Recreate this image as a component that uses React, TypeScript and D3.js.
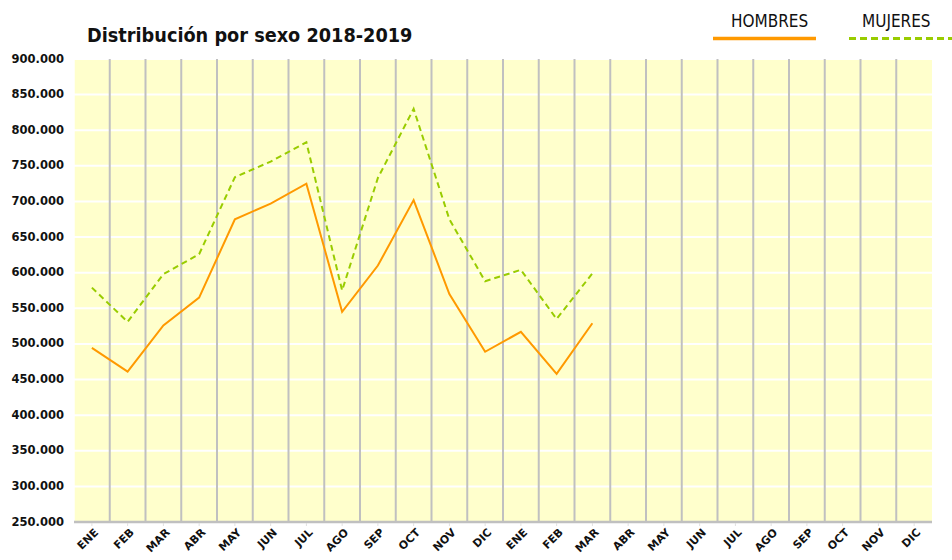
import * as d3 from "d3";

// months of the x axis (two years, 2018-2019 school/calendar)
const months = [
  "ENE", "FEB", "MAR", "ABR", "MAY", "JUN", "JUL", "AGO", "SEP", "OCT", "NOV", "DIC",
  "ENE", "FEB", "MAR", "ABR", "MAY", "JUN", "JUL", "AGO", "SEP", "OCT", "NOV", "DIC",
];

// values (only the first 15 months have data)
const hombres = [
  494500, 461000, 526000, 565000, 675000, 697000, 725000, 545000,
  610000, 702000, 570000, 489000, 517000, 458000, 529000,
];
const mujeres = [
  579000, 531000, 598000, 626000, 734000, 756000, 783000, 575000,
  733000, 830000, 675000, 588000, 604000, 535000, 599000,
];

const yTicks = d3.range(250000, 900001, 50000);

const W = 952;
const H = 560;
const margin = { top: 59, right: 20, bottom: 38, left: 74 };

const fmt = (v: number) => d3.format(",")(v).replace(/,/g, ".");

export default function App() {
  const idx = months.map((_, i) => i);
  const x = d3
    .scaleBand<number>()
    .domain(idx)
    .range([margin.left, W - margin.right])
    .padding(0);
  const y = d3
    .scaleLinear()
    .domain([250000, 900000])
    .range([H - margin.bottom, margin.top]);

  const cx = (i: number) => (x(i) as number) + x.bandwidth() / 2;

  const line = d3
    .line<number>()
    .x((_, i) => cx(i))
    .y((d) => y(d));

  const plotBottom = H - margin.bottom;
  const plotRight = W - margin.right;

  return (
    <div style={{ position: "absolute", left: 0, top: 0 }}>
      <svg width={W} height={H} viewBox={`0 0 ${W} ${H}`} style={{ display: "block" }}>
        <rect width={W} height={H} fill="white" />

        {/* plot background */}
        <rect
          x={margin.left}
          y={margin.top}
          width={plotRight - margin.left}
          height={plotBottom - margin.top}
          fill="#ffffcc"
        />

        {/* horizontal white grid */}
        {yTicks.map((t) => (
          <line
            key={t}
            x1={margin.left}
            x2={plotRight}
            y1={y(t)}
            y2={y(t)}
            stroke="white"
            strokeWidth={2}
          />
        ))}

        {/* vertical grid at month boundaries */}
        {idx.slice(1).map((i) => (
          <line
            key={i}
            x1={x(i)}
            x2={x(i)}
            y1={margin.top}
            y2={plotBottom}
            stroke="#c0c0c0"
            strokeWidth={2}
          />
        ))}
        <line x1={margin.left} x2={margin.left} y1={margin.top} y2={plotBottom} stroke="white" strokeWidth={1.5} />

        {/* x axis */}
        <line
          x1={margin.left}
          x2={plotRight}
          y1={plotBottom}
          y2={plotBottom}
          stroke="#c0c0c0"
          strokeWidth={2.5}
        />
        {idx.map((i) => (
          <line
            key={i}
            x1={cx(i)}
            x2={cx(i)}
            y1={plotBottom + 1}
            y2={plotBottom + 4}
            stroke="#e0e0e0"
            strokeWidth={1}
          />
        ))}
        {months.map((m, i) => (
          <text
            key={i}
            transform={`translate(${cx(i) + 5},${plotBottom + 9}) rotate(-45)`}
            textAnchor="end"
            dominantBaseline="middle"
            fontFamily="DejaVu Sans"
            fontWeight="bold"
            fontSize={11}
            fill="#111"
          >
            {m}
          </text>
        ))}

        {/* y labels */}
        {yTicks.map((t) => (
          <text
            key={t}
            x={64}
            y={y(t)}
            textAnchor="end"
            dominantBaseline="middle"
            fontFamily="DejaVu Sans"
            fontWeight="bold"
            fontSize={11.5}
            fill="#111"
          >
            {fmt(t)}
          </text>
        ))}

        {/* series */}
        <path d={line(mujeres) ?? ""} fill="none" stroke="#99cc00" strokeWidth={2} strokeDasharray="6,4" />
        <path d={line(hombres) ?? ""} fill="none" stroke="#ff9900" strokeWidth={2} />

        {/* title */}
        <text
          x={87}
          y={42}
          fontFamily="DejaVu Sans Condensed, DejaVu Sans"
          fontWeight="bold"
          fontSize={19.7}
          fill="#111"
        >
          Distribución por sexo 2018-2019
        </text>

        {/* legend */}
        <text x={731} y={27} fontFamily="DejaVu Sans Condensed, DejaVu Sans" fontSize={17} fill="#111">
          HOMBRES
        </text>
        <line x1={713} x2={816} y1={38.5} y2={38.5} stroke="#ff9900" strokeWidth={3.5} />
        <text x={862} y={27} fontFamily="DejaVu Sans Condensed, DejaVu Sans" fontSize={17} fill="#111">
          MUJERES
        </text>
        <line x1={849} x2={960} y1={38.5} y2={38.5} stroke="#99cc00" strokeWidth={3} strokeDasharray="7,4" />
      </svg>
    </div>
  );
}
